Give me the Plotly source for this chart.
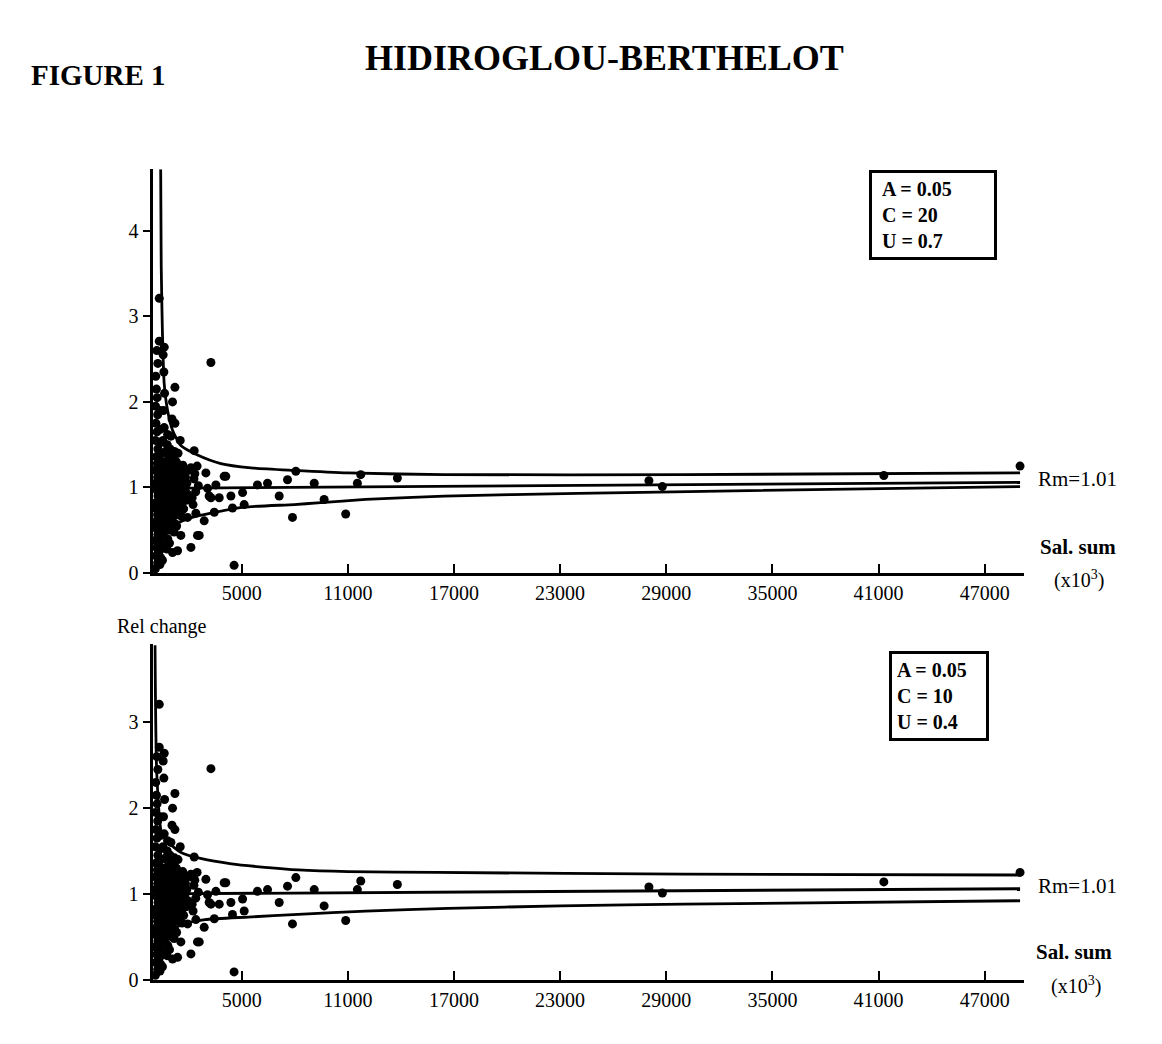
import plotly.graph_objects as go

# ---------------- data ----------------
sal_sum = [
    # sparse points
    3260, 1225, 1090, 1225, 1525, 2315, 620, 340, 340, 4010, 1375, 2130, 2975, 3540,
    3160, 3730, 4390, 5050, 4480, 5140, 5890, 6460, 7120, 7590, 7870, 8060, 9100, 9660,
    10880, 11730, 11540, 13800, 4570, 3070, 3260, 3450, 2880, 2600, 2130, 1375, 1090, 240,
    2500, 1560, 2410, 1940, 28020, 28780, 41300, 49000, 4100,
    # cloud near the origin: column ~100-300
    120, 250, 150, 220, 110, 260, 180, 130, 240, 160, 120, 270, 200, 140, 250, 110, 230,
    170, 260, 120, 210, 150, 250, 130, 220, 180, 140, 260, 200,
    # column ~350-450
    380, 420, 360, 440, 400, 370, 430, 390, 410, 360, 450, 380, 420, 400, 370, 440, 390,
    410, 430, 360, 400, 380,
    # column ~500-700
    520, 650, 580, 700, 540, 620, 690, 560, 640, 600, 680, 530, 660, 590, 700, 550, 620,
    580, 640, 600, 560,
    # column ~750-850
    780, 820, 760, 840, 800, 770, 830, 790, 810, 850, 760, 820, 800, 780, 840, 790, 810,
    # column ~900-1100
    920, 1050, 980, 1100, 940, 1020, 1080, 960, 1040, 910, 1070, 990, 1030, 950, 1000, 1060,
    # column ~1150-1250
    1180, 1220, 1160, 1240, 1200, 1170, 1230, 1190, 1210, 1250, 1180, 1220, 1200,
    # column ~1300-1500
    1320, 1450, 1380, 1500, 1340, 1420, 1480, 1360, 1440, 1310, 1400,
    # column ~1600-1700
    1620, 1680, 1650, 1700, 1610, 1660, 1690, 1640, 1670,
    # column ~1700-2000
    1720, 1850, 1950, 1780, 1900, 1820, 1990,
    # column ~2200-2600
    2250, 2400, 2550, 2300, 2480, 2200, 2350,
]
rel_change = [
    2.46, 2.17, 2.00, 1.75, 1.55, 1.43, 2.64, 2.71, 3.21, 1.13, 1.21, 1.23, 1.17, 1.03,
    0.90, 0.88, 0.90, 0.94, 0.76, 0.80, 1.03, 1.05, 0.90, 1.09, 0.65, 1.19, 1.05, 0.86,
    0.69, 1.15, 1.05, 1.11, 0.09, 0.99, 0.88, 0.71, 0.61, 0.44, 0.30, 0.26, 0.24, 0.28,
    0.44, 0.44, 0.70, 0.65, 1.08, 1.01, 1.14, 1.25, 1.13,
    0.05, 0.12, 0.20, 0.30, 0.38, 0.45, 0.52, 0.60, 0.68, 0.75, 0.82, 0.90, 0.97, 1.05,
    1.12, 1.20, 1.28, 1.36, 1.45, 1.55, 1.65, 1.75, 1.85, 1.95, 2.05, 2.15, 2.30, 2.45, 2.60,
    0.10, 0.18, 0.26, 0.34, 0.42, 0.50, 0.58, 0.66, 0.73, 0.80, 0.86, 0.92, 0.98, 1.04,
    1.10, 1.16, 1.23, 1.31, 1.40, 1.52, 1.68, 1.90,
    0.15, 0.30, 0.42, 0.55, 0.65, 0.72, 0.80, 0.87, 0.93, 1.00, 1.06, 1.12, 1.20, 1.30,
    1.42, 1.55, 1.70, 1.90, 2.10, 2.35, 2.55,
    0.28, 0.40, 0.50, 0.58, 0.66, 0.74, 0.81, 0.88, 0.95, 1.01, 1.07, 1.14, 1.21, 1.29,
    1.38, 1.50, 1.62,
    0.35, 0.50, 0.62, 0.70, 0.78, 0.85, 0.92, 0.98, 1.04, 1.10, 1.17, 1.25, 1.35, 1.45,
    1.60, 1.80,
    0.48, 0.58, 0.67, 0.75, 0.82, 0.89, 0.96, 1.02, 1.08, 1.15, 1.22, 1.31, 1.42,
    0.55, 0.68, 0.78, 0.86, 0.93, 1.00, 1.06, 1.12, 1.20, 1.30, 1.40,
    0.66, 0.75, 0.83, 0.90, 0.97, 1.03, 1.10, 1.17, 1.26,
    0.75, 0.85, 0.92, 0.98, 1.05, 1.12, 1.20,
    0.80, 0.95, 1.02, 1.10, 1.25, 0.88, 1.16,
]

# bounds, top panel (A=0.05, C=20, U=0.7)
upper1_x = [420, 450, 520, 620, 810, 1090, 1560, 2500, 3820, 5520, 7970, 11000, 16440, 30000, 49000]
upper1_y = [4.72, 3.6, 2.8, 2.21, 1.90, 1.67, 1.49, 1.38, 1.28, 1.23, 1.20, 1.17, 1.15, 1.15, 1.17]
mid1_x = [0, 49000]
mid1_y = [0.99, 1.06]
lower1_x = [450, 700, 1280, 2200, 3260, 5140, 7970, 9280, 12000, 16440, 24000, 32800, 49000]
lower1_y = [0.30, 0.47, 0.57, 0.65, 0.70, 0.77, 0.80, 0.82, 0.86, 0.90, 0.93, 0.96, 1.01]

# bounds, bottom panel (A=0.05, C=10, U=0.4)
upper2_x = [100, 200, 470, 850, 1600, 2730, 4420, 6310, 8190, 11000, 16000, 30000, 49000]
upper2_y = [3.9, 2.4, 1.71, 1.60, 1.48, 1.41, 1.35, 1.31, 1.28, 1.26, 1.25, 1.23, 1.22]
mid2_x = [0, 49000]
mid2_y = [1.00, 1.06]
lower2_x = [300, 660, 1600, 2920, 5370, 8190, 12000, 16670, 23000, 30000, 49000]
lower2_y = [0.35, 0.52, 0.64, 0.70, 0.73, 0.76, 0.80, 0.83, 0.86, 0.88, 0.92]

x_ticks = [5000, 11000, 17000, 23000, 29000, 35000, 41000, 47000]
y_ticks_top = [0, 1, 2, 3, 4]
y_ticks_bottom = [0, 1, 2, 3]

# ---------------- figure ----------------
FONT = "Liberation Serif"
fig = go.Figure()

line_style = dict(color="black", width=2.8, shape="spline", smoothing=0.6)
for xa, ya, curves in [
    ("x", "y", [(upper1_x, upper1_y), (mid1_x, mid1_y), (lower1_x, lower1_y)]),
    ("x2", "y2", [(upper2_x, upper2_y), (mid2_x, mid2_y), (lower2_x, lower2_y)]),
]:
    for cx, cy in curves:
        fig.add_trace(go.Scatter(x=cx, y=cy, mode="lines", line=line_style,
                                 xaxis=xa, yaxis=ya, showlegend=False, hoverinfo="skip"))
    fig.add_trace(go.Scatter(x=sal_sum, y=rel_change, mode="markers",
                             marker=dict(color="black", size=9),
                             xaxis=xa, yaxis=ya, showlegend=False, cliponaxis=False))

xaxis_common = dict(
    range=[0, 49200], showgrid=False, zeroline=False, showline=True, linecolor="black",
    linewidth=3, ticks="inside", ticklen=9, tickwidth=1.5, tickcolor="black",
    tickvals=x_ticks, ticktext=[str(v) for v in x_ticks],
    tickfont=dict(family=FONT, size=20, color="black"), domain=[0.125, 0.874],
)
yaxis_common = dict(
    showgrid=False, zeroline=False, showline=True, linecolor="black", linewidth=2.5,
    ticks="outside", ticklen=8, tickwidth=1.5, tickcolor="black",
    tickfont=dict(family=FONT, size=20, color="black"),
)

fig.update_layout(
    width=1162, height=1044,
    margin=dict(l=0, r=0, t=0, b=0),
    paper_bgcolor="white", plot_bgcolor="white",
    xaxis=dict(**xaxis_common, anchor="y"),
    yaxis=dict(**yaxis_common, range=[0, 4.72], domain=[0.453, 0.844], anchor="x",
               tickvals=y_ticks_top, ticktext=[str(v) for v in y_ticks_top]),
    xaxis2=dict(**xaxis_common, anchor="y2"),
    yaxis2=dict(**yaxis_common, range=[0, 3.91], domain=[0.0594, 0.384], anchor="x2",
                tickvals=y_ticks_bottom, ticktext=[str(v) for v in y_ticks_bottom]),
)

def txt(text, x, y, size=17, bold=False, xanchor="center", **kw):
    fig.add_annotation(text=("<b>%s</b>" % text) if bold else text, x=x, y=y,
                       xref="paper", yref="paper", showarrow=False, xanchor=xanchor,
                       yanchor="middle", font=dict(family=FONT, size=size, color="black"), **kw)

txt("HIDIROGLOU-BERTHELOT", 0.513, 0.952, size=36, bold=True)
txt("FIGURE 1", 0.078, 0.935, size=29, bold=True)

box_kw = dict(bordercolor="black", borderwidth=3, borderpad=5, bgcolor="white", align="left")
txt("&nbsp;A = 0.05<br>&nbsp;C = 20<br>&nbsp;U = 0.7", 0.796, 0.800, size=20, bold=True, width=112, **box_kw)
txt("A = 0.05<br>C = 10<br>U = 0.4", 0.801, 0.334, size=20, bold=True, width=84, **box_kw)

txt("Rm=1.01", 0.885, 0.544, size=21, xanchor="left")
txt("Rm=1.01", 0.885, 0.150, size=21, xanchor="left")
txt("<b>Sal. sum</b>", 0.921, 0.478, size=21)
txt("(x10<sup>3</sup>)", 0.922, 0.447, size=20)
txt("<b>Sal. sum</b>", 0.917, 0.086, size=21)
txt("(x10<sup>3</sup>)", 0.919, 0.054, size=20)
txt("Rel change", 0.092, 0.401, size=20, xanchor="left")

fig.write_html("out.html")
